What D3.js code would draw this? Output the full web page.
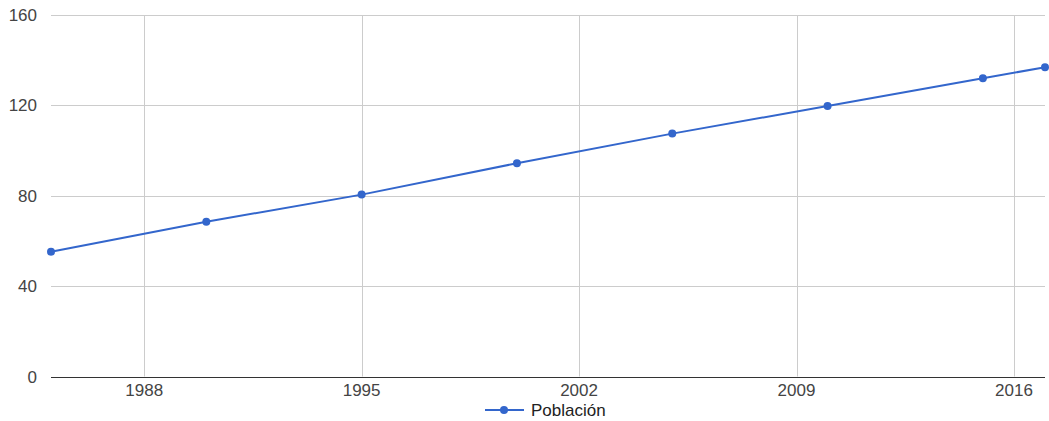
<!DOCTYPE html>
<html>
<head>
<meta charset="utf-8">
<script src="https://cdn.jsdelivr.net/npm/d3@7"></script>
<style>
  body { margin: 0; background: #fff; }
  text { font-family: Arial, "Liberation Sans", sans-serif; }
</style>
</head>
<body>
<svg id="chart" width="1049" height="421"></svg>
<script>
// data
const years = [1985, 1990, 1995, 2000, 2005, 2010, 2015, 2017];
const poblacion = [55.2, 68.5, 80.5, 94.4, 107.5, 119.7, 132.0, 136.9];
const xTicks = [1988, 1995, 2002, 2009, 2016];
const yTicks = [0, 40, 80, 120, 160];
const seriesName = 'Población';

const svg = d3.select('#chart');
const plotLeft = 51, plotRight = 1045, plotTop = 15, plotBottom = 376.5;

const x = d3.scaleLinear().domain([1985, 2017]).range([plotLeft, plotRight]);
const y = d3.scaleLinear().domain([0, 160]).range([plotBottom, plotTop]);

// vertical grid
svg.append('g').selectAll('line')
  .data(xTicks)
  .enter().append('line')
  .attr('x1', d => Math.round(x(d)) + 0.5).attr('x2', d => Math.round(x(d)) + 0.5)
  .attr('y1', plotTop).attr('y2', plotBottom)
  .attr('stroke', '#cccccc');

// horizontal grid
svg.append('g').selectAll('line')
  .data(yTicks.filter(d => d > 0))
  .enter().append('line')
  .attr('x1', plotLeft).attr('x2', plotRight)
  .attr('y1', d => Math.round(y(d)) + 0.5).attr('y2', d => Math.round(y(d)) + 0.5)
  .attr('stroke', '#cccccc');

// baseline
svg.append('line')
  .attr('x1', plotLeft).attr('x2', plotRight)
  .attr('y1', Math.round(y(0)) + 0.5).attr('y2', Math.round(y(0)) + 0.5)
  .attr('stroke', '#333333');

// y labels
svg.append('g').selectAll('text')
  .data(yTicks)
  .enter().append('text')
  .attr('x', 37).attr('y', d => y(d) + 6)
  .attr('text-anchor', 'end')
  .attr('font-size', 17).attr('fill', '#444444')
  .text(d => d);

// x labels
svg.append('g').selectAll('text')
  .data(xTicks)
  .enter().append('text')
  .attr('x', d => x(d)).attr('y', 396)
  .attr('text-anchor', 'middle')
  .attr('font-size', 17).attr('fill', '#444444')
  .text(d => d);

const data = years.map((yr, i) => ({yr, v: poblacion[i]}));

svg.append('path')
  .datum(data)
  .attr('fill', 'none')
  .attr('stroke', '#3366cc')
  .attr('stroke-width', 2)
  .attr('d', d3.line().x(d => x(d.yr)).y(d => y(d.v)));

svg.append('g').selectAll('circle')
  .data(data)
  .enter().append('circle')
  .attr('cx', d => x(d.yr)).attr('cy', d => y(d.v))
  .attr('r', 4)
  .attr('fill', '#3366cc');

// legend
const lg = svg.append('g');
lg.append('line')
  .attr('x1', 485).attr('x2', 524).attr('y1', 410).attr('y2', 410)
  .attr('stroke', '#3366cc').attr('stroke-width', 2);
lg.append('circle').attr('cx', 504).attr('cy', 410).attr('r', 4).attr('fill', '#3366cc');
lg.append('text')
  .attr('x', 531).attr('y', 415.5)
  .attr('font-size', 17).attr('fill', '#222222')
  .text(seriesName);
</script>
</body>
</html>
